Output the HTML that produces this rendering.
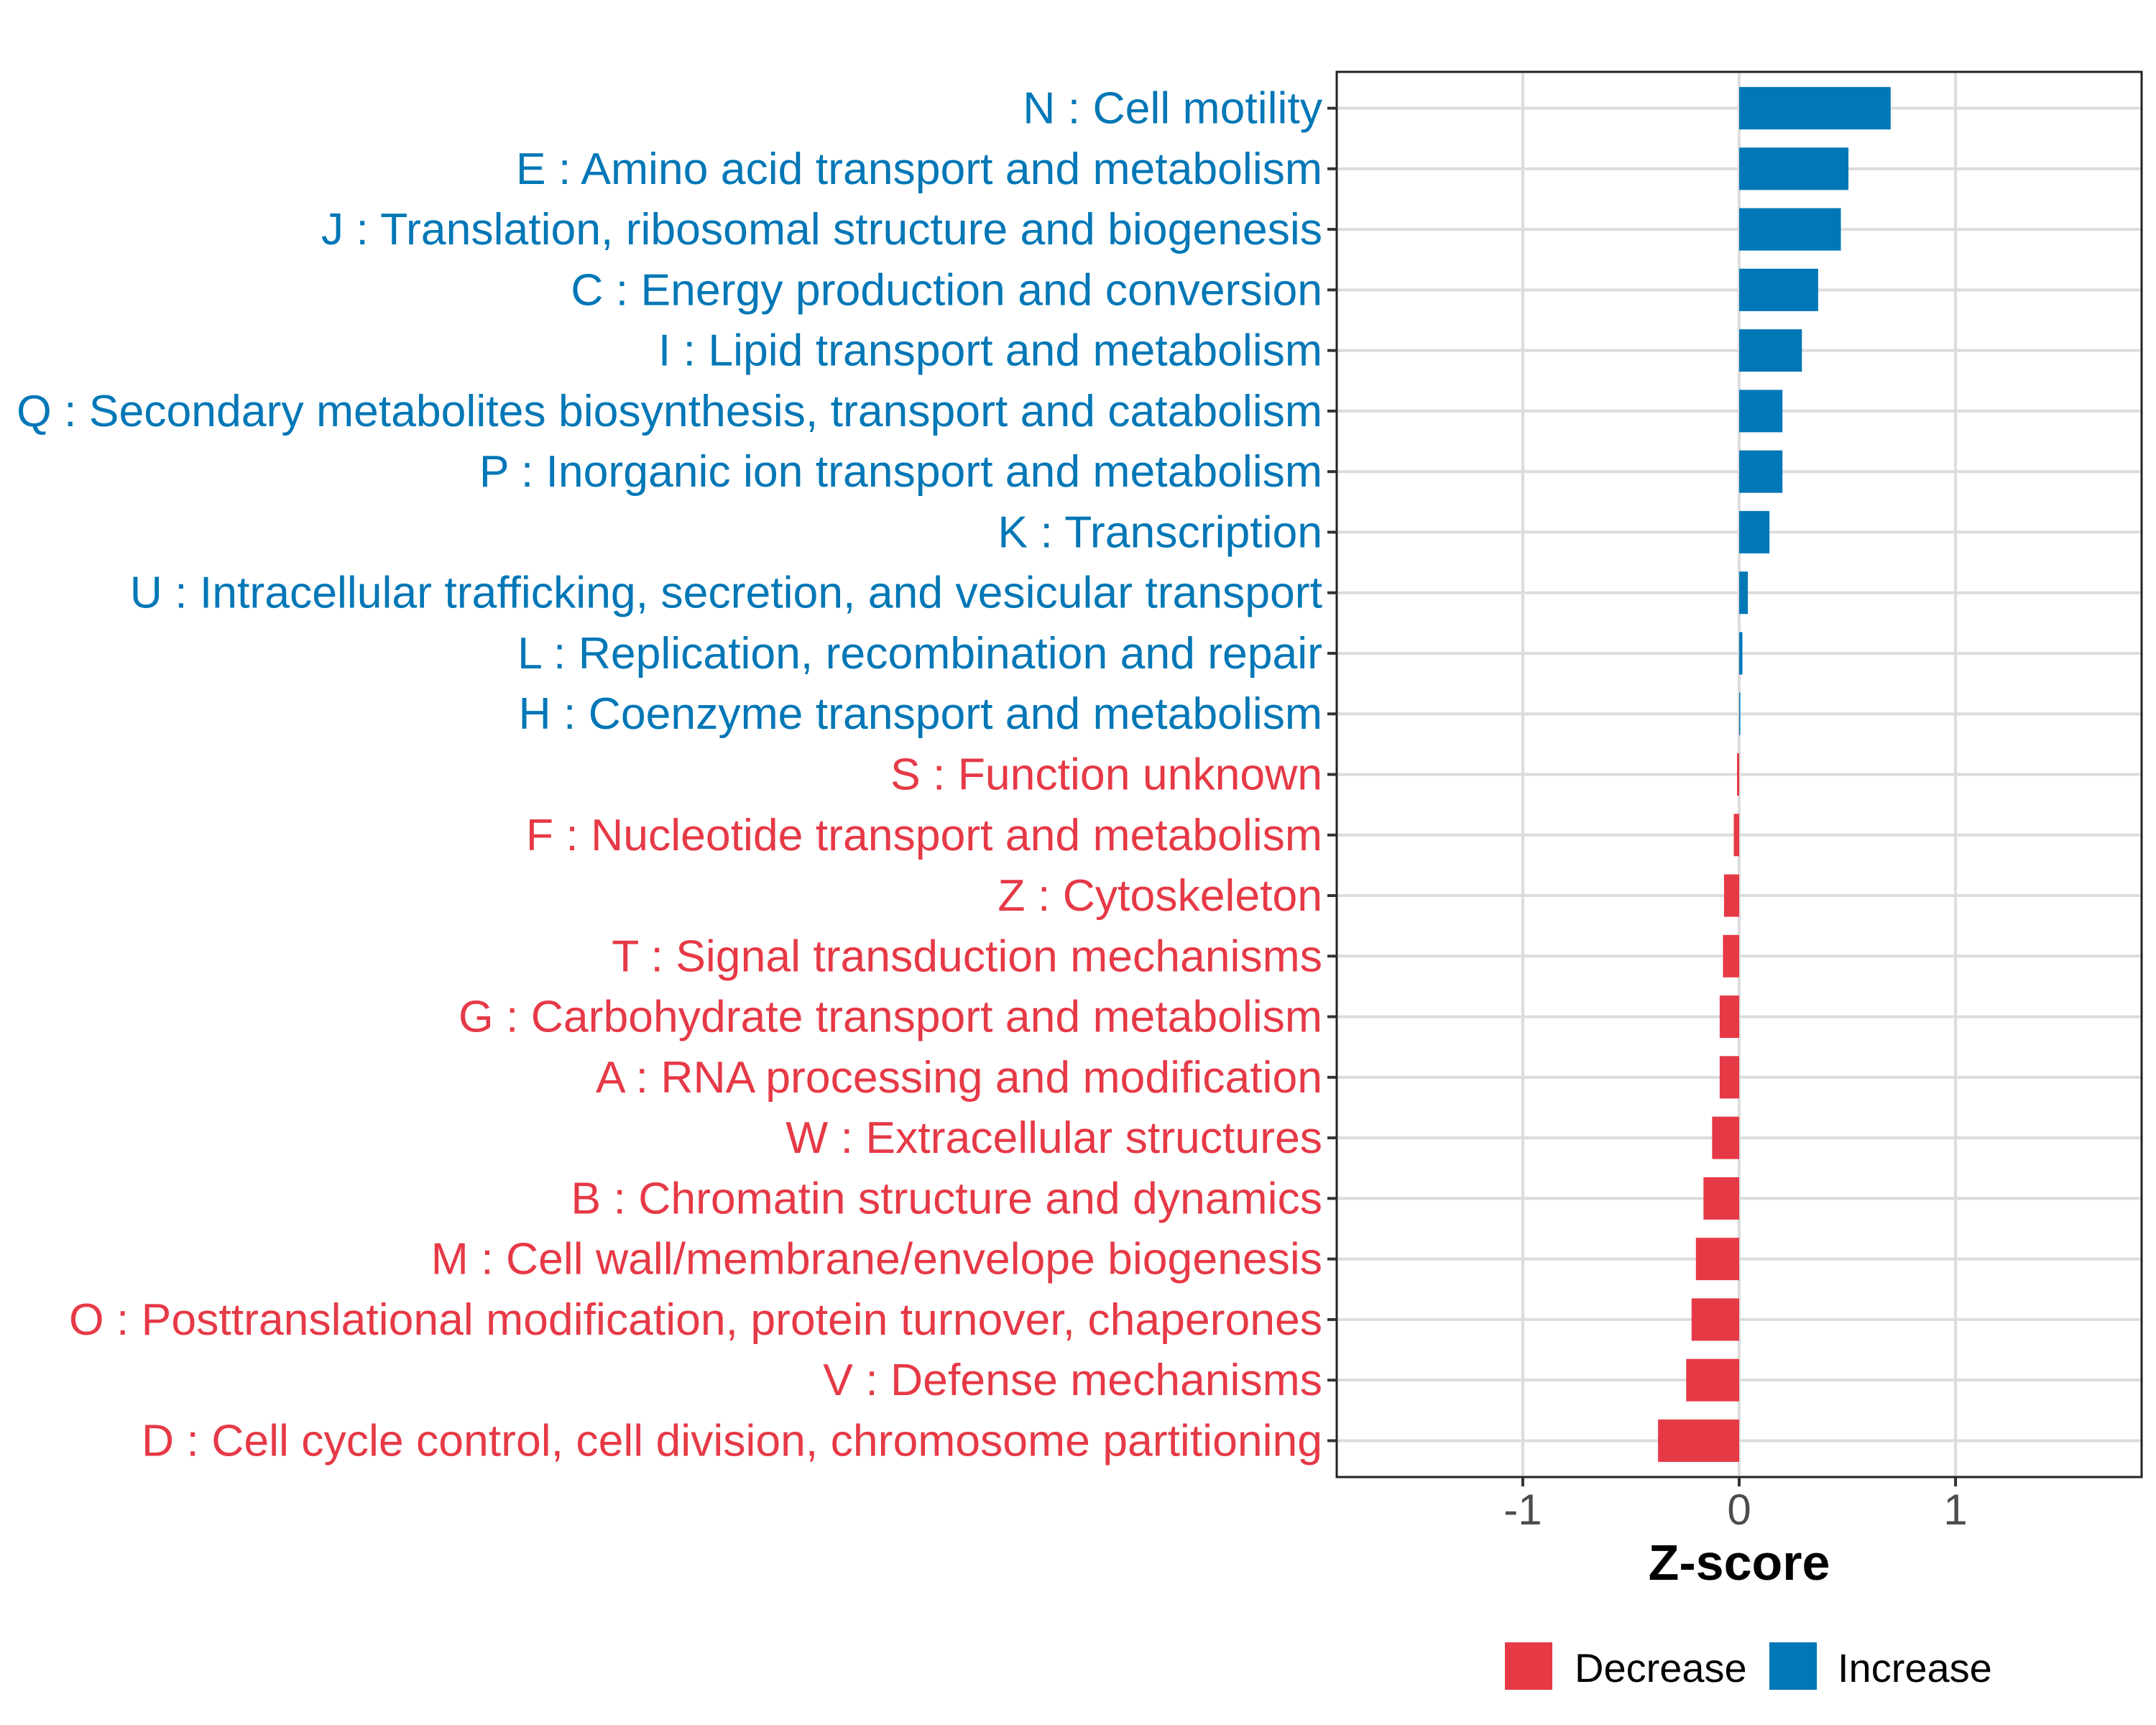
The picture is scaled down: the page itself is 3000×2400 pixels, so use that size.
<!DOCTYPE html>
<html><head><meta charset="utf-8"><style>
html,body{margin:0;padding:0;background:#fff;}
svg{display:block;font-family:"Liberation Sans",Arial,sans-serif;}
</style></head><body>
<svg id="chart" width="3000" height="2400" viewBox="0 0 3000 2400">
<rect x="0" y="0" width="3000" height="2400" fill="#fff"/>
<g id="grid"></g>
<g id="bars"></g>
<rect x="1860" y="100" width="1120" height="1955" fill="none" stroke="#222" stroke-width="3"/>
<g id="ylabels"></g>
<g id="xaxis"></g>
<text x="2420" y="2198" text-anchor="middle" font-size="70" font-weight="bold" fill="#000">Z-score</text>
<g>
<rect x="2094" y="2285" width="66" height="66" fill="#E63946"/>
<text x="2191" y="2340" font-size="56" fill="#000">Decrease</text>
<rect x="2462" y="2285" width="66" height="66" fill="#0077B6"/>
<text x="2557" y="2340" font-size="56" fill="#000">Increase</text>
</g>
</svg>
<script>
const categories = [
"N : Cell motility",
"E : Amino acid transport and metabolism",
"J : Translation, ribosomal structure and biogenesis",
"C : Energy production and conversion",
"I : Lipid transport and metabolism",
"Q : Secondary metabolites biosynthesis, transport and catabolism",
"P : Inorganic ion transport and metabolism",
"K : Transcription",
"U : Intracellular trafficking, secretion, and vesicular transport",
"L : Replication, recombination and repair",
"H : Coenzyme transport and metabolism",
"S : Function unknown",
"F : Nucleotide transport and metabolism",
"Z : Cytoskeleton",
"T : Signal transduction mechanisms",
"G : Carbohydrate transport and metabolism",
"A : RNA processing and modification",
"W : Extracellular structures",
"B : Chromatin structure and dynamics",
"M : Cell wall/membrane/envelope biogenesis",
"O : Posttranslational modification, protein turnover, chaperones",
"V : Defense mechanisms",
"D : Cell cycle control, cell division, chromosome partitioning"
];
const zscores = [0.70,0.505,0.47,0.365,0.29,0.20,0.20,0.14,0.04,0.015,0.005,-0.01,-0.025,-0.07,-0.075,-0.09,-0.09,-0.125,-0.165,-0.2,-0.22,-0.245,-0.375];
const xTicks = [-1,0,1];
const xTickLabels = ["-1","0","1"];

const NS="http://www.w3.org/2000/svg";
const panel={left:1860,right:2980,top:100,bottom:2055};
const xMin=-1.86,xMax=1.86;
function xScale(v){return panel.left+(v-xMin)/(xMax-xMin)*(panel.right-panel.left);}
const n=categories.length;
const step=(panel.bottom-panel.top)/(n-1+1.2);
function yScale(i){return panel.top+step*(0.6+i);}
const BLUE="#0077B6",RED="#E63946";
function mk(tag,attrs,parent){const e=document.createElementNS(NS,tag);for(const k in attrs)e.setAttribute(k,attrs[k]);parent.appendChild(e);return e;}
const grid=document.getElementById('grid'),bars=document.getElementById('bars'),yl=document.getElementById('ylabels'),xa=document.getElementById('xaxis');
categories.forEach((c,i)=>{
  const y=yScale(i);
  const g=mk('line',{x1:panel.left,x2:panel.right,y1:y,y2:y,stroke:"#DCDCDC","stroke-width":4},grid);
  
  
});
xTicks.forEach((t,i)=>{
  const x=xScale(t);
  const g=mk('line',{x1:x,x2:x,y1:panel.top,y2:panel.bottom,stroke:"#DCDCDC","stroke-width":4},grid);
  
  
  const tk=mk('line',{x1:x,x2:x,y1:panel.bottom,y2:panel.bottom+13,stroke:"#333","stroke-width":4},xa);
  
  
  const tl=mk('text',{x:x,y:2121,"text-anchor":"middle","font-size":60,fill:"#4D4D4D"},xa);
  tl.textContent=xTickLabels[i];
  
  
});
categories.forEach((c,i)=>{
  const y=yScale(i),v=zscores[i];
  const col=v>=0?BLUE:RED;
  const bh=step*0.7;
  const x0=xScale(Math.min(0,v)),x1=xScale(Math.max(0,v));
  const r=mk('rect',{x:x0,y:y-bh/2,width:Math.max(x1-x0,0.5),height:bh,fill:col},bars);
  
  
  const tk=mk('line',{x1:panel.left-13,x2:panel.left,y1:y,y2:y,stroke:"#333","stroke-width":4},yl);
  
  
  const t=mk('text',{x:1840,y:y+21,"text-anchor":"end","font-size":62.5,fill:col},yl);
  t.textContent=c;
  
  
});
</script>
</body></html>
